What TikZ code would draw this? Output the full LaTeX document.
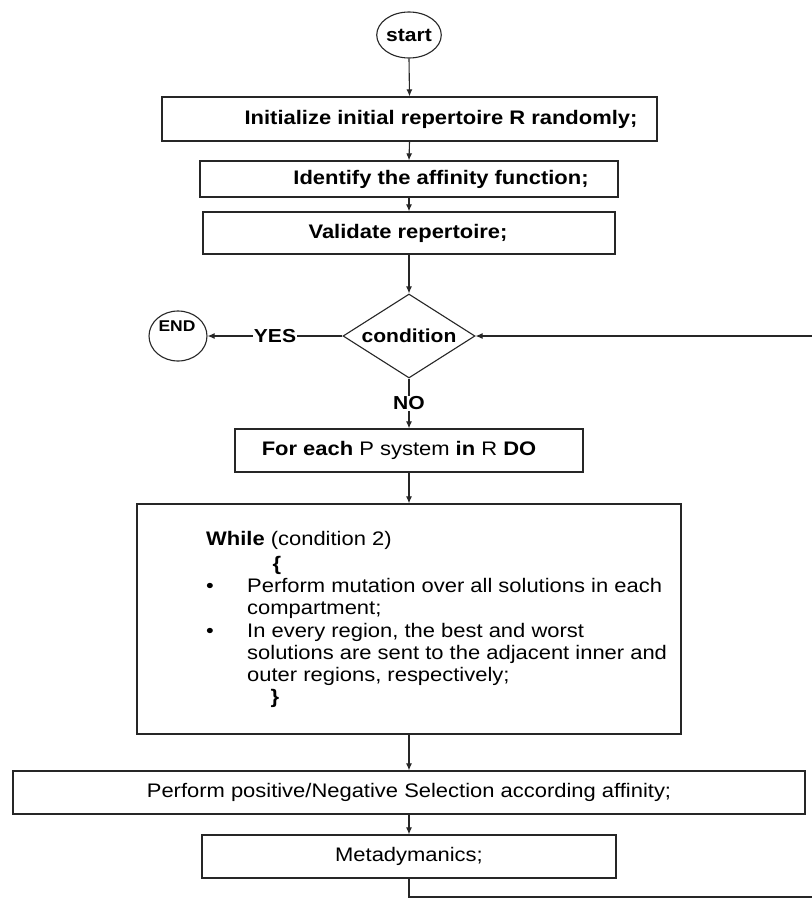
\documentclass[tikz,border=0pt]{standalone}
\usepackage{fontspec}
\setmainfont{Liberation Sans}[FakeStretch=1.12]
\usetikzlibrary{shapes.geometric,arrows.meta}
\newcommand\mainsz{\fontsize{19.6pt}{22pt}\selectfont}
\newcommand\labsz{\fontsize{18.8pt}{21pt}\selectfont}
\newcommand\finsz{\fontsize{15.6pt}{17pt}\selectfont}
\begin{document}
\begin{tikzpicture}[x=1pt,y=-1pt,
  box/.style={draw=black!85, line width=1.3pt, rectangle, inner sep=0pt},
  term/.style={draw=black!85, line width=1.1pt, ellipse, inner sep=0pt},
  txt/.style={inner sep=0pt, text height=14pt, text depth=4pt, font=\mainsz},
  btxt/.style={txt, font=\mainsz\bfseries},
  conn/.style={draw=black!85, line width=1.1pt},
  arr/.style={conn, -{Latex[length=7pt,width=6pt]}},
  lab/.style={fill=white, inner sep=1pt, font=\labsz\bfseries}
]
\fill[white] (0,0) rectangle (811,899);
\useasboundingbox (0,0) rectangle (811,899);

% terminals
\node[term, minimum width=55pt, minimum height=46pt, font=\labsz\bfseries] (start) at (409,35) {start};
\node[term, minimum width=58pt, minimum height=50pt] (end) at (178,336) {};
\node[inner sep=0pt, font=\finsz\bfseries] (endtxt) at (177,326) {END};

% process boxes
\node[box, minimum width=495pt, minimum height=44pt] (init) at (409.5,119) {};
\node[btxt] (inittxt) at (441,119) {Initialize initial repertoire R randomly;};

\node[box, minimum width=418pt, minimum height=36pt] (ident) at (409,179) {};
\node[btxt] (identtxt) at (441,179) {Identify the affinity function;};

\node[box, minimum width=412pt, minimum height=42pt] (valid) at (409,233) {};
\node[btxt] (validtxt) at (408,233) {Validate repertoire;};

\node[diamond, draw=black!85, line width=1.1pt, minimum width=132pt, minimum height=84pt, aspect=1.57, inner sep=0pt, font=\labsz\bfseries] (cond) at (409,336) {condition};

\node[box, minimum width=348pt, minimum height=43pt] (foreach) at (409,450.5) {};
\node[txt] (foreachtxt) at (399,450.5) {\textbf{For each} P system \textbf{in} R \textbf{DO}};

\node[box, minimum width=544pt, minimum height=230pt] (while) at (409,619) {};
\node[txt, anchor=west] (w1) at (206,540) {\textbf{While} (condition 2)};
\node[txt, anchor=center, font=\mainsz\bfseries] (w2) at (277,565) {\{};
\node[txt, anchor=west] (b1) at (206,587) {\textbullet};
\node[txt, anchor=west] (w3) at (247,587) {Perform mutation over all solutions in each};
\node[txt, anchor=west] (w4) at (247,609) {compartment;};
\node[txt, anchor=west] (b2) at (206,632) {\textbullet};
\node[txt, anchor=west] (w5) at (247,632) {In every region, the best and worst};
\node[txt, anchor=west] (w6) at (247,654) {solutions are sent to the adjacent inner and};
\node[txt, anchor=west] (w7) at (247,676) {outer regions, respectively;};
\node[txt, anchor=center, font=\mainsz\bfseries] (w8) at (275,698) {\}};

\node[box, minimum width=792pt, minimum height=43pt] (perf) at (409,792.5) {};
\node[txt] (perftxt) at (409,792.5) {Perform positive/Negative Selection according affinity;};

\node[box, minimum width=414pt, minimum height=43pt] (meta) at (409,856.5) {};
\node[txt] (metatxt) at (409,856.5) {Metadymanics;};

% connectors
\draw[arr] (start.south) -- (init.north);
\draw[arr] (init.south) -- (ident.north);
\draw[arr] (ident.south) -- (valid.north);
\draw[arr] (valid.south) -- (cond.north);
\draw[arr] (cond.west) -- node[lab] (yes) {YES} (end.east);
\draw[arr] (cond.south) -- node[lab] (no) {NO} (foreach.north);
\draw[arr] (foreach.south) -- (while.north);
\draw[arr] (while.south) -- (perf.north);
\draw[arr] (perf.south) -- (meta.north);

\coordinate (loopcorner) at (409,897);
\coordinate (loopend) at (812,897);
\coordinate (fbstart) at (812,336);
\draw[conn] (meta.south) -- (loopcorner) -- (loopend);
\draw[arr] (fbstart) -- (cond.east);
\end{tikzpicture}
\end{document}
